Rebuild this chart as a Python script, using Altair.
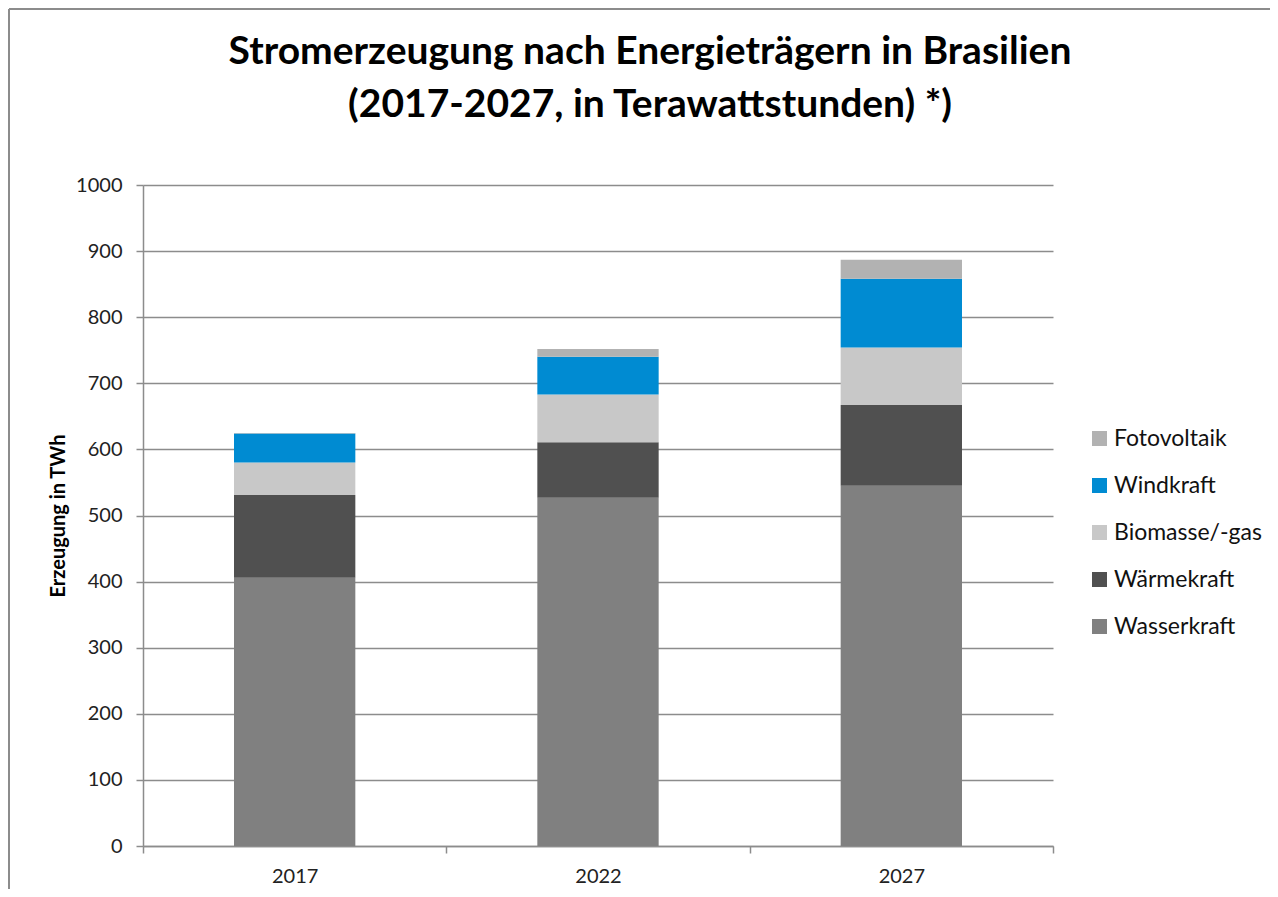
import altair as alt
import pandas as pd

years = ["2017", "2022", "2027"]
sources = ["Wasserkraft", "Wärmekraft", "Biomasse/-gas", "Windkraft", "Fotovoltaik"]
wasserkraft = [406, 527, 545]
waermekraft = [125, 84, 122]
biomasse = [49, 72, 87]
windkraft = [44, 57, 104]
fotovoltaik = [1, 12, 29]
colors = ["#808080", "#505050", "#c8c8c8", "#008bd2", "#b2b2b2"]
legend_order = ["Fotovoltaik", "Windkraft", "Biomasse/-gas", "Wärmekraft", "Wasserkraft"]

series = [wasserkraft, waermekraft, biomasse, windkraft, fotovoltaik]
rows = []
for si, (name, vals) in enumerate(zip(sources, series)):
    for y, v in zip(years, vals):
        rows.append({"Jahr": y, "Energieträger": name, "TWh": v, "ord": si})
df = pd.DataFrame(rows)

color_map = dict(zip(sources, colors))

FONT = "Lato"

bars = alt.Chart(df).mark_bar(width=alt.RelativeBandSize(0.4)).encode(
    x=alt.X("Jahr:N", title=None,
            scale=alt.Scale(paddingInner=0, paddingOuter=0),
            axis=alt.Axis(labelAngle=0, tickBand="extent", tickSize=7,
                          labelFontSize=20, labelPadding=13, labelColor="#222",
                          domainColor="#8c8c8c", tickColor="#8c8c8c",
                          domainWidth=1.5, tickWidth=1.5, grid=False, labelFont=FONT)),
    y=alt.Y("TWh:Q", stack="zero", title="Erzeugung in TWh",
            scale=alt.Scale(domain=[0, 1000], nice=False),
            axis=alt.Axis(values=list(range(0, 1001, 100)), format="d", tickSize=7,
                          labelFontSize=20, labelPadding=14, labelColor="#222",
                          titleFontSize=20, titleFontWeight="bold", titlePadding=7,
                          titleColor="#000", titleFont=FONT,
                          domainColor="#8c8c8c", tickColor="#8c8c8c",
                          gridColor="#8c8c8c", gridWidth=1.5,
                          domainWidth=1.5, tickWidth=1.5, labelFont=FONT)),
    color=alt.Color("Energieträger:N",
                    scale=alt.Scale(domain=legend_order,
                                    range=[color_map[s] for s in legend_order]),
                    legend=alt.Legend(title=None, orient="none", legendX=945, legendY=242,
                                      symbolType="square", symbolSize=225,
                                      symbolStrokeWidth=0,
                                      labelFontSize=23, labelFont=FONT,
                                      labelColor="#111", rowPadding=23,
                                      labelOffset=3)),
    order=alt.Order("ord:Q", sort="ascending"),
)

frame_df = pd.DataFrame({"k": [0]})
frame_top = alt.Chart(frame_df).mark_rule(color="#8c8c8c", strokeWidth=2).encode(
    x=alt.value(-134), x2=alt.value(1127), y=alt.value(-176))
frame_left = alt.Chart(frame_df).mark_rule(color="#8c8c8c", strokeWidth=2).encode(
    x=alt.value(-134), y=alt.value(-176), y2=alt.value(704))

chart = alt.layer(frame_top, frame_left, bars).properties(
    width=910, height=661,
    title=alt.TitleParams(
        ["Stromerzeugung nach Energieträgern in Brasilien",
         "(2017-2027, in Terawattstunden) *)"],
        fontSize=39, font=FONT, fontWeight="bold", color="#000",
        anchor="middle", dx=52, offset=-117, lineHeight=53,
    ),
    padding={"left": 135, "top": 177, "right": 217, "bottom": 43},
    autosize=alt.AutoSizeParams(type="none"),
).configure_view(stroke=None)

chart.save("out.html", embed_options={"renderer": "svg", "actions": False})
